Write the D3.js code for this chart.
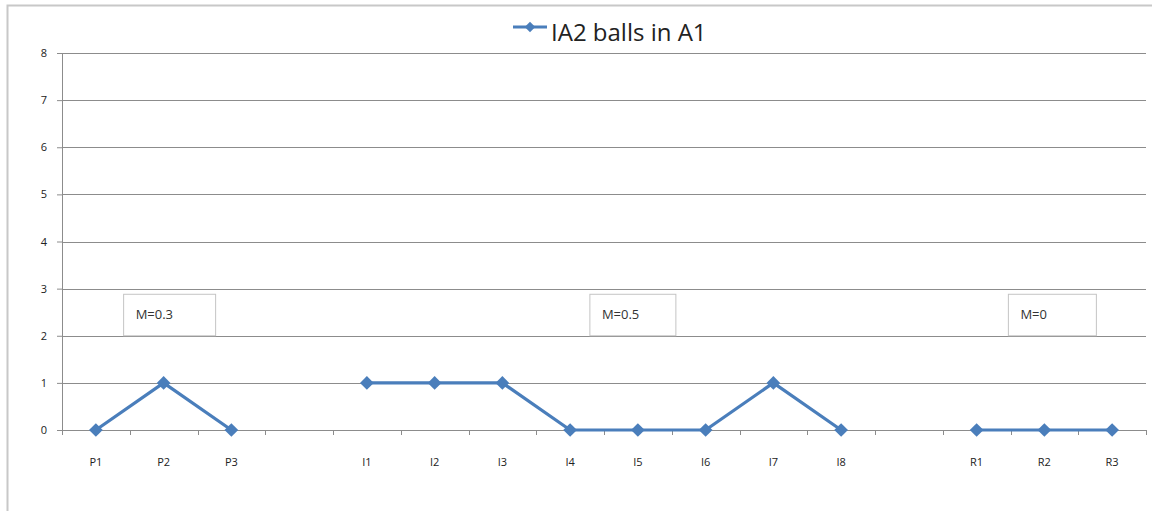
<!DOCTYPE html>
<meta charset="utf-8">
<script src="https://d3js.org/d3.v7.min.js"></script>
<style>
  body { margin: 0; background: #fff; }
  text { font-family: "Open Sans", "DejaVu Sans", sans-serif; }
</style>
<div id="my_dataviz"></div>
<script>

    // data ("" = empty slot between groups)
    var categories = ["P1","P2","P3","","I1","I2","I3","I4","I5","I6","I7","I8","","R1","R2","R3"];
    var values = [0,1,0,null,1,1,1,0,0,0,1,0,null,0,0,0];
    var yTicks = [0,1,2,3,4,5,6,7,8];
    var seriesName = "IA2 balls in A1";
    var noteLabels = ["M=0.3","M=0.5","M=0"];
    var noteAt = [1, 8, 14];   // category index each note sits over

    // note box placement (pixels relative to the category centre)
    var noteDx = [-40, -48, -36];
    var noteW = [92, 86, 88];

    var W = 1152, H = 511;
    var margin = {top: 53, left: 62, right: 6, bottom: 81};
    var width = W - margin.left - margin.right,
        height = H - margin.top - margin.bottom;

    var svg = d3.select("#my_dataviz")
        .append("svg")
            .attr("width", W)
            .attr("height", H);

    // outer chart frame (only top and left edges visible)
    svg.append("path")
        .attr("d", "M7.5," + H + "V5.5H" + W)
        .attr("fill", "none")
        .attr("stroke", "#c8c8c8")
        .attr("stroke-width", 2);

    var g = svg.append("g")
        .attr("transform", "translate(" + margin.left + "," + margin.top + ")");

    var x = d3.scaleBand()
        .domain(d3.range(categories.length))
        .range([0, width]);

    var y = d3.scaleLinear()
        .domain([0, 8])
        .range([height, 0]);

    // gridlines
    g.selectAll(".grid")
        .data(yTicks.slice(1))
        .enter()
        .append("line")
        .attr("x1", 0)
        .attr("x2", width)
        .attr("y1", function(d) { return Math.round(y(d)) + 0.5; })
        .attr("y2", function(d) { return Math.round(y(d)) + 0.5; })
        .attr("stroke", "#8c8c8c")
        .attr("stroke-width", 1.2);

    // Y axis
    var yAxis = g.append("g")
        .call(d3.axisLeft(y).tickValues(yTicks).tickSize(5).tickPadding(10));
    yAxis.select(".domain").attr("stroke", "#8c8c8c");
    yAxis.selectAll(".tick line").attr("stroke", "#8c8c8c");
    yAxis.selectAll("text")
        .style("font-size", "11px")
        .attr("fill", "#222");

    // X axis, ticks between categories
    var xAxis = g.append("g")
        .attr("transform", "translate(0," + height + ")");
    xAxis.append("line")
        .attr("x1", 0).attr("x2", width)
        .attr("y1", 0.5).attr("y2", 0.5)
        .attr("stroke", "#8c8c8c")
        .attr("stroke-width", 1.2);
    xAxis.selectAll(".xtick")
        .data(d3.range(categories.length + 1))
        .enter()
        .append("line")
        .attr("x1", function(i) { return Math.round(i * x.step()) + 0.5; })
        .attr("x2", function(i) { return Math.round(i * x.step()) + 0.5; })
        .attr("y1", 0)
        .attr("y2", 5)
        .attr("stroke", "#8c8c8c");
    xAxis.selectAll(".xlabel")
        .data(categories)
        .enter()
        .append("text")
        .attr("x", function(d, i) { return x(i) + x.bandwidth() / 2; })
        .attr("y", 36)
        .attr("text-anchor", "middle")
        .style("font-size", "11px")
        .attr("fill", "#222")
        .text(function(d) { return d; });

    // notes
    var notes = g.selectAll(".note")
        .data(noteLabels)
        .enter()
        .append("g")
        .attr("transform", function(d, i) {
            return "translate(" + (x(noteAt[i]) + x.bandwidth() / 2 + noteDx[i]) + "," + (y(2.88)) + ")";
        });
    notes.append("rect")
        .attr("width", function(d, i) { return noteW[i]; })
        .attr("height", y(2) - y(2.88))
        .attr("fill", "#fff")
        .attr("stroke", "#c4c4c4");
    notes.append("text")
        .attr("x", 12)
        .attr("y", 25)
        .style("font-size", "13px")
        .attr("fill", "#333")
        .text(function(d) { return d; });

    // line, broken at empty slots
    var line = d3.line()
        .defined(function(d) { return d != null; })
        .x(function(d, i) { return x(i) + x.bandwidth() / 2; })
        .y(function(d) { return y(d); });

    g.append("path")
        .datum(values)
        .attr("fill", "none")
        .attr("stroke", "#4a7ebb")
        .attr("stroke-width", 3.2)
        .attr("stroke-linejoin", "round")
        .attr("d", line);

    var points = values
        .map(function(v, i) { return {i: i, v: v}; })
        .filter(function(d) { return d.v != null; });

    var diamond = d3.symbol().type(d3.symbolDiamond2).size(120);
    g.selectAll(".pt")
        .data(points)
        .enter()
        .append("path")
        .attr("transform", function(d) {
            return "translate(" + (x(d.i) + x.bandwidth() / 2) + "," + y(d.v) + ")";
        })
        .attr("d", diamond)
        .attr("fill", "#4a7ebb");

    // legend
    var legend = svg.append("g").attr("transform", "translate(513,27)");
    legend.append("line")
        .attr("x1", 0).attr("x2", 34)
        .attr("stroke", "#4a7ebb")
        .attr("stroke-width", 3);
    legend.append("path")
        .attr("transform", "translate(17,0)")
        .attr("d", d3.symbol().type(d3.symbolDiamond2).size(70))
        .attr("fill", "#4a7ebb");
    legend.append("text")
        .attr("x", 38)
        .attr("y", 14)
        .style("font-size", "24px")
        .attr("fill", "#222")
        .text(seriesName);

</script>
